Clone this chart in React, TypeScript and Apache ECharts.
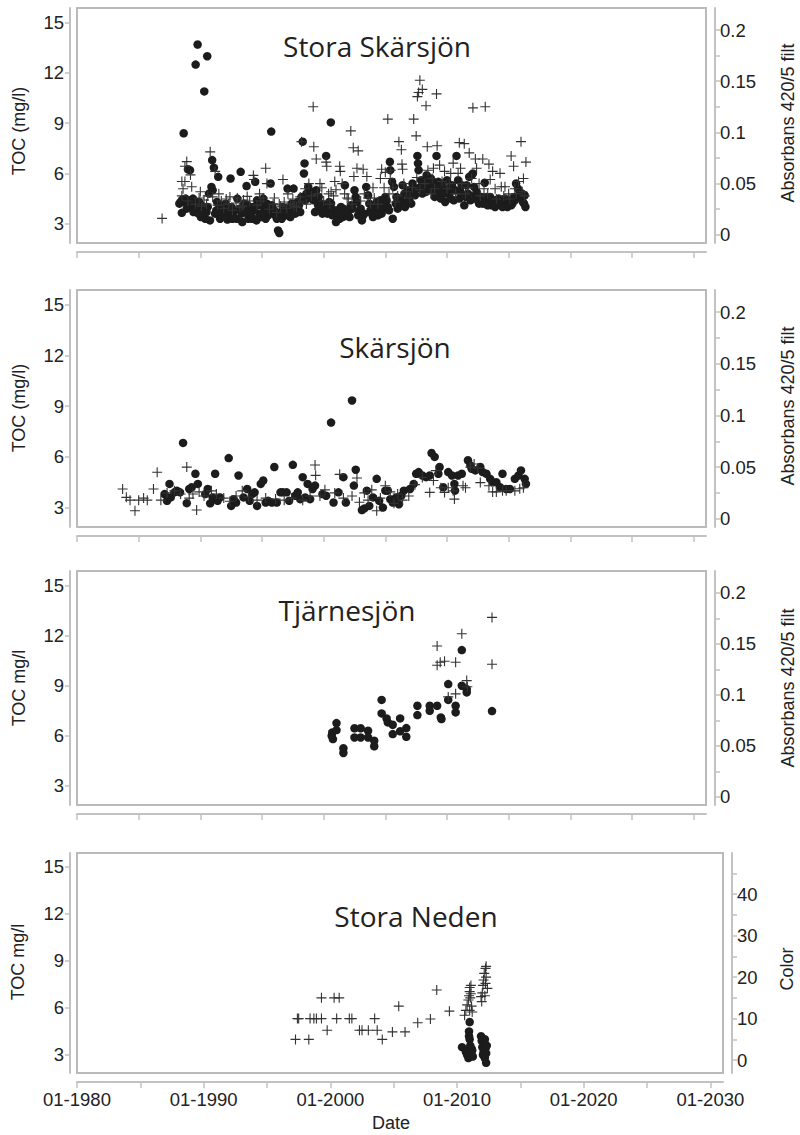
import React, { useEffect, useRef } from "react";
import * as echarts from "echarts";

// ---------- tick values ----------
const xTickValues = [1980, 1985, 1990, 1995, 2000, 2005, 2010, 2015, 2020, 2025, 2030];
const xLabelValues = [1980, 1990, 2000, 2010, 2020, 2030];
const tocTicks = [3, 6, 9, 12, 15];
const absTicks = [0, 0.025, 0.05, 0.075, 0.1, 0.125, 0.15, 0.175, 0.2];
const absLabels = [0, 0.05, 0.1, 0.15, 0.2];
const colorTicks = [0, 5, 10, 15, 20, 25, 30, 35, 40, 45];
const colorLabels = [0, 10, 20, 30, 40];

// ---------- Stora Skärsjön ----------
const storaSkarsjonToc = [
  [1988.65, 8.4], [1989.62, 12.5], [1989.78, 13.7], [1990.32, 10.9], [1990.56, 13.0], [1995.75, 8.5],
  [2000.58, 9.05], [1998.3, 7.9], [2000.2, 7.05], [1998.45, 6.6], [1998.4, 6.0],
  [1988.4, 4.3], [1988.55, 4.45], [1988.7, 4.3], [1988.8, 4.5], [1988.5, 3.65], [1989.16, 6.2], [1989.0, 6.25],
  [1989.3, 4.0], [1989.4, 4.5], [1989.5, 4.2], [1989.6, 3.9], [1989.7, 3.8], [1989.9, 4.3], [1990.05, 3.4],
  [1990.2, 3.6], [1990.35, 3.75], [1990.5, 3.7], [1990.7, 4.8], [1990.78, 3.2], [1990.9, 5.2], [1990.96, 6.8],
  [1991.0, 5.0], [1991.1, 6.35], [1991.3, 3.8], [1991.45, 5.8], [1991.6, 3.3], [1991.75, 4.1], [1991.9, 3.7],
  [1992.05, 4.2], [1992.2, 3.25], [1992.45, 5.7], [1992.6, 3.3], [1992.8, 3.8], [1993.0, 4.5], [1993.27, 6.1],
  [1993.4, 3.1], [1993.55, 4.2], [1993.75, 5.25], [1993.9, 3.3], [1994.0, 3.7], [1994.2, 3.3], [1994.3, 4.0],
  [1994.45, 5.5], [1994.6, 4.4], [1994.75, 3.4], [1994.9, 3.6], [1995.1, 4.5], [1995.3, 3.3], [1995.5, 3.5],
  [1995.7, 5.4], [1995.9, 3.8], [1996.1, 3.5], [1996.3, 2.6], [1996.4, 2.45], [1996.55, 3.7], [1996.7, 4.0],
  [1996.9, 3.5], [1997.07, 5.1], [1997.2, 3.9], [1997.4, 4.2], [1997.56, 5.1], [1997.7, 3.6], [1997.9, 4.3],
  [1998.1, 3.7], [1998.6, 4.8], [1998.75, 5.2], [1998.9, 4.6], [1999.05, 4.9], [1999.2, 4.4], [1999.4, 5.0],
  [1999.55, 4.1], [1999.7, 3.8], [1999.85, 4.2], [2000.0, 3.9], [2000.3, 3.6], [2000.45, 4.3], [2000.7, 3.5],
  [2000.85, 3.8], [2001.0, 3.1], [2001.2, 3.6], [2001.4, 4.0], [2001.55, 3.4], [2001.72, 5.3], [2001.9, 3.5],
  [2002.05, 3.8], [2002.2, 4.1], [2002.5, 5.0], [2002.6, 4.6], [2002.7, 4.3], [2002.9, 3.7], [2003.1, 3.2],
  [2003.3, 3.6], [2003.45, 5.2], [2003.6, 4.7], [2003.8, 3.8], [2004.0, 3.4], [2004.2, 4.1], [2004.4, 3.5],
  [2004.6, 4.4], [2004.8, 3.9], [2005.0, 4.6], [2005.2, 4.0], [2005.37, 6.7], [2005.4, 6.2], [2005.55, 5.5],
  [2005.6, 3.3], [2005.7, 5.2], [2005.85, 4.2], [2006.0, 3.9], [2006.2, 4.5], [2006.4, 5.3], [2006.55, 4.8],
  [2006.7, 4.3], [2006.85, 5.0], [2007.0, 4.6], [2007.2, 5.4], [2007.4, 4.7], [2007.6, 7.05], [2007.65, 6.6],
  [2007.7, 6.2], [2007.85, 5.2], [2008.0, 4.8], [2008.2, 5.6], [2008.35, 5.9], [2008.5, 5.3], [2008.7, 5.7],
  [2008.85, 5.0], [2009.0, 4.6], [2009.15, 7.05], [2009.3, 5.5], [2009.5, 4.5], [2009.7, 5.0], [2009.85, 4.3],
  [2010.0, 5.6], [2010.2, 4.8], [2010.4, 5.3], [2010.55, 4.4], [2010.77, 7.05], [2010.9, 5.6], [2011.1, 4.9],
  [2011.4, 4.1], [2011.6, 5.3], [2011.8, 5.8], [2012.0, 5.9], [2012.1, 6.0], [2012.3, 4.7], [2012.5, 4.4],
  [2012.7, 4.5], [2012.9, 4.2], [2013.06, 5.45], [2013.2, 4.6], [2013.4, 4.3], [2013.6, 4.1], [2013.8, 4.4],
  [2014.0, 4.2], [2014.2, 4.5], [2014.4, 4.1], [2014.6, 4.3], [2014.8, 4.2], [2015.0, 4.4], [2015.2, 4.1],
  [2015.45, 4.6], [2015.6, 5.4], [2015.75, 5.1], [2015.9, 4.8], [2016.0, 4.6], [2016.15, 4.3], [2016.36, 4.0],
  [2016.3, 4.7],
  [1988.3, 4.2], [1988.9, 3.9], [1989.05, 4.4], [1989.45, 3.7], [1989.85, 3.6], [1990.1, 4.1], [1990.4, 3.3],
  [1990.6, 4.0], [1991.2, 3.6], [1991.35, 4.3], [1991.55, 3.9], [1991.8, 3.5], [1992.0, 3.9], [1992.3, 3.6],
  [1992.5, 4.0], [1992.7, 3.4], [1992.95, 3.3], [1993.15, 3.9], [1993.35, 3.6], [1993.65, 3.7], [1993.85, 4.1],
  [1994.1, 3.5], [1994.4, 3.8], [1994.55, 3.2], [1994.85, 4.1], [1995.0, 3.4], [1995.2, 3.9], [1995.4, 4.2],
  [1995.6, 3.7], [1995.8, 4.1], [1996.0, 3.8], [1996.2, 3.3], [1996.6, 3.3], [1996.8, 3.8], [1997.0, 3.6],
  [1997.3, 3.4], [1997.5, 3.8], [1997.8, 4.0], [1998.0, 4.1], [1998.2, 4.6], [1998.5, 4.4], [1998.7, 4.7],
  [1999.0, 4.5], [1999.3, 3.7], [1999.6, 4.6], [1999.9, 3.6], [2000.1, 4.1], [2000.4, 3.9], [2000.6, 4.2],
  [2001.1, 3.8], [2001.3, 3.3], [2001.6, 3.9], [2001.8, 3.6], [2002.1, 3.4], [2002.35, 3.9], [2002.8, 3.5],
  [2003.0, 3.9], [2003.2, 3.5], [2003.7, 4.2], [2003.9, 3.6], [2004.1, 3.8], [2004.3, 4.3], [2004.5, 3.9],
  [2004.7, 3.6], [2004.9, 4.2], [2005.1, 4.4], [2005.3, 3.8], [2005.9, 4.6], [2006.1, 4.0], [2006.3, 4.2],
  [2006.6, 4.0], [2006.9, 4.4], [2007.1, 4.2], [2007.3, 4.9], [2007.5, 5.1], [2007.9, 5.6], [2008.1, 5.2],
  [2008.3, 4.9], [2008.6, 5.1], [2008.8, 5.5], [2009.1, 5.2], [2009.4, 4.9], [2009.6, 5.4], [2009.9, 4.8],
  [2010.1, 5.1], [2010.3, 4.5], [2010.7, 5.0], [2011.0, 4.5], [2011.2, 5.3], [2011.5, 4.6], [2011.7, 4.8],
  [2011.9, 4.4], [2012.2, 5.2], [2012.4, 4.9], [2012.6, 4.2], [2012.8, 4.6], [2013.0, 4.4], [2013.3, 4.1],
  [2013.5, 4.6], [2013.7, 4.3], [2013.9, 4.0], [2014.1, 4.4], [2014.3, 4.2], [2014.5, 4.0], [2014.7, 4.5],
  [2014.9, 4.0], [2015.1, 4.3], [2015.3, 4.2], [2015.5, 4.4], [2015.7, 4.6], [2016.1, 4.8], [2016.25, 4.2],
];
const storaSkarsjonAbs = [
  [1986.9, 0.016], [1988.5, 0.052], [1988.75, 0.052], [1988.9, 0.0715], [1988.75, 0.067], [1989.3, 0.047],
  [1989.2, 0.0585], [1988.5, 0.038], [1989.6, 0.03], [1989.9, 0.036], [1990.1, 0.028], [1990.3, 0.034],
  [1990.5, 0.03], [1990.8, 0.081], [1991.2, 0.062], [1991.0, 0.037], [1991.4, 0.029], [1991.7, 0.033],
  [1991.9, 0.026], [1992.1, 0.035], [1992.3, 0.03], [1992.6, 0.024], [1992.9, 0.031], [1993.2, 0.027],
  [1993.5, 0.034], [1993.8, 0.0375], [1994.3, 0.058], [1994.35, 0.054], [1994.6, 0.029], [1994.9, 0.033],
  [1995.3, 0.065], [1995.4, 0.05], [1995.6, 0.025], [1995.9, 0.03], [1996.2, 0.022], [1996.5, 0.028],
  [1996.7, 0.054], [1996.8, 0.032], [1997.0, 0.026], [1997.3, 0.03], [1997.5, 0.035], [1997.8, 0.027],
  [1998.2, 0.091], [1998.1, 0.037], [1998.5, 0.045], [1998.8, 0.05], [1999.15, 0.125], [1999.2, 0.086],
  [1999.4, 0.074], [1999.5, 0.04], [1999.7, 0.05], [1999.85, 0.046], [2000.2, 0.071], [2000.25, 0.067],
  [2000.4, 0.04], [2000.6, 0.042], [2000.8, 0.038], [2000.9, 0.052], [2001.3, 0.067], [2001.35, 0.062],
  [2001.5, 0.05], [2001.7, 0.04], [2002.0, 0.035], [2002.2, 0.1015], [2002.4, 0.085], [2002.45, 0.057],
  [2002.7, 0.065], [2002.8, 0.082], [2003.0, 0.033], [2003.2, 0.064], [2003.3, 0.04], [2003.5, 0.057],
  [2003.8, 0.03], [2004.1, 0.036], [2004.6, 0.055], [2004.7, 0.064], [2004.9, 0.046], [2005.0, 0.061],
  [2005.2, 0.113], [2005.3, 0.04], [2005.4, 0.055], [2005.45, 0.063], [2005.8, 0.032], [2006.1, 0.091],
  [2006.3, 0.083], [2006.35, 0.069], [2006.4, 0.064], [2006.7, 0.042], [2007.0, 0.036], [2007.3, 0.113],
  [2007.5, 0.0966], [2007.55, 0.056], [2007.6, 0.135], [2007.7, 0.139], [2007.8, 0.151], [2008.0, 0.142],
  [2008.3, 0.126], [2008.4, 0.086], [2008.45, 0.063], [2008.7, 0.04], [2008.9, 0.065], [2009.15, 0.1376],
  [2009.2, 0.087], [2009.4, 0.068], [2009.8, 0.062], [2010.0, 0.045], [2010.3, 0.06], [2010.5, 0.07],
  [2010.9, 0.06], [2011.0, 0.09], [2011.1, 0.065], [2011.4, 0.089], [2011.5, 0.04], [2011.8, 0.08],
  [2012.1, 0.124], [2012.3, 0.074], [2012.4, 0.065], [2012.7, 0.038], [2012.9, 0.074], [2013.1, 0.125],
  [2013.4, 0.069], [2013.5, 0.054], [2013.7, 0.062], [2014.0, 0.035], [2014.3, 0.06], [2014.4, 0.047],
  [2014.7, 0.047], [2015.0, 0.04], [2015.2, 0.077], [2015.4, 0.067], [2015.6, 0.04], [2015.8, 0.052],
  [2016.0, 0.091], [2016.2, 0.055], [2016.3, 0.038], [2016.4, 0.071],
  [1988.6, 0.045], [1989.0, 0.033], [1990.0, 0.042], [1990.6, 0.038], [1991.5, 0.04], [1992.4, 0.037],
  [1993.0, 0.036], [1993.4, 0.028], [1994.0, 0.033], [1994.8, 0.04], [1995.1, 0.036], [1996.0, 0.036],
  [1996.4, 0.03], [1997.1, 0.04], [1997.6, 0.028], [1998.0, 0.032], [1998.6, 0.03], [1999.0, 0.038],
  [2000.0, 0.033], [2000.5, 0.03], [2001.0, 0.044], [2001.9, 0.036], [2002.3, 0.03], [2003.6, 0.036],
  [2004.0, 0.046], [2004.4, 0.03], [2005.6, 0.046], [2006.0, 0.038], [2006.5, 0.05], [2007.2, 0.046],
  [2007.8, 0.044], [2008.2, 0.05], [2008.8, 0.055], [2009.0, 0.045], [2009.6, 0.052], [2010.2, 0.05],
  [2010.7, 0.04], [2011.2, 0.05], [2011.7, 0.046], [2012.0, 0.055], [2012.6, 0.05], [2013.0, 0.045],
  [2013.3, 0.04], [2013.9, 0.045], [2014.6, 0.038], [2015.1, 0.035], [2015.5, 0.045], [2016.1, 0.042],
];

// ---------- Skärsjön ----------
const skarsjonToc = [
  [1987.1, 3.8], [1987.3, 3.4], [1987.5, 4.4], [1987.6, 3.6], [1987.9, 3.9], [1988.1, 4.0], [1988.35, 3.9],
  [1988.6, 6.83], [1988.9, 3.26], [1989.1, 4.1], [1989.3, 4.2], [1989.6, 5.0], [1989.8, 4.4], [1990.4, 3.8],
  [1990.6, 4.1], [1990.8, 3.25], [1991.0, 3.6], [1991.2, 5.0], [1991.4, 3.4], [1991.6, 3.6], [1992.3, 5.93],
  [1992.5, 3.1], [1992.7, 3.5], [1992.9, 3.3], [1993.1, 4.9], [1993.5, 3.6], [1993.8, 4.1], [1994.0, 3.4],
  [1994.2, 3.8], [1994.4, 3.9], [1994.6, 3.1], [1994.9, 4.4], [1995.1, 4.6], [1995.3, 3.3], [1995.5, 3.4],
  [1995.8, 3.3], [1996.0, 5.4], [1996.2, 3.3], [1996.5, 3.9], [1996.7, 3.9], [1997.0, 3.9], [1997.2, 3.4],
  [1997.5, 5.53], [1997.7, 3.7], [1997.9, 3.9], [1998.1, 3.5], [1998.3, 4.8], [1998.5, 3.6], [1998.7, 4.4],
  [1998.9, 3.5], [1999.1, 4.1], [1999.3, 4.3], [1999.9, 3.8], [2000.2, 3.7], [2000.6, 8.03], [2000.8, 3.3],
  [2001.2, 3.9], [2001.6, 4.8], [2001.8, 3.3], [2002.3, 9.34], [2002.45, 4.3], [2002.6, 5.24], [2003.1, 2.85],
  [2003.3, 2.95], [2003.5, 4.0], [2003.7, 3.1], [2004.0, 3.6], [2004.3, 4.7], [2004.5, 3.4], [2004.8, 3.0],
  [2005.0, 4.0], [2005.2, 4.0], [2005.4, 3.5], [2005.6, 3.3], [2005.9, 3.6], [2006.1, 3.2], [2006.3, 3.7],
  [2006.5, 4.0], [2007.0, 4.1], [2007.3, 4.4], [2007.5, 5.0], [2007.7, 5.1], [2008.0, 4.9], [2008.3, 4.8],
  [2008.6, 4.9], [2008.75, 6.23], [2009.0, 6.0], [2009.3, 5.0], [2009.4, 5.4], [2009.7, 4.2], [2010.1, 5.1],
  [2010.4, 4.9], [2010.6, 4.4], [2010.65, 4.0], [2010.9, 4.9], [2011.2, 5.0], [2011.7, 5.8], [2011.9, 5.5],
  [2012.0, 5.3], [2012.3, 5.2], [2012.7, 5.4], [2012.9, 5.1], [2013.2, 5.0], [2013.5, 4.7], [2013.7, 4.5],
  [2014.0, 4.5], [2014.3, 4.2], [2014.5, 5.0], [2014.8, 4.1], [2015.1, 4.1], [2015.5, 4.7], [2015.8, 4.9],
  [2016.0, 5.2], [2016.3, 4.7], [2016.4, 4.4],
];
const skarsjonAbs = [
  [1983.7, 0.0288], [1984.0, 0.0207], [1984.3, 0.018], [1984.7, 0.0078], [1985.0, 0.018], [1985.4, 0.02],
  [1985.7, 0.018], [1986.2, 0.0288], [1986.5, 0.045], [1986.8, 0.018], [1987.3, 0.025], [1987.9, 0.027],
  [1988.4, 0.024], [1988.9, 0.05], [1989.1, 0.02], [1989.4, 0.024], [1989.7, 0.0084], [1989.9, 0.026],
  [1990.3, 0.022], [1990.9, 0.027], [1991.3, 0.024], [1991.9, 0.02], [1992.4, 0.017], [1992.9, 0.022],
  [1993.4, 0.027], [1993.9, 0.021], [1994.6, 0.018], [1995.3, 0.02], [1996.1, 0.019], [1996.8, 0.018],
  [1997.4, 0.02], [1998.3, 0.018], [1998.9, 0.022], [1999.3, 0.052], [1999.35, 0.042], [1999.7, 0.022],
  [2000.1, 0.028], [2000.9, 0.025], [2001.3, 0.043], [2001.6, 0.02], [2002.3, 0.022], [2002.7, 0.0395],
  [2002.9, 0.016], [2003.3, 0.025], [2003.6, 0.018], [2003.9, 0.028], [2004.3, 0.0078], [2004.6, 0.02],
  [2005.0, 0.032], [2005.4, 0.026], [2005.7, 0.015], [2006.0, 0.024], [2006.4, 0.018], [2006.9, 0.022],
  [2007.4, 0.033], [2008.0, 0.04], [2008.6, 0.0255], [2008.9, 0.037], [2009.1, 0.0466], [2009.5, 0.03],
  [2009.8, 0.0255], [2010.1, 0.03], [2010.5, 0.027], [2010.6, 0.019], [2011.3, 0.032], [2011.5, 0.03],
  [2011.9, 0.05], [2012.2, 0.053], [2012.5, 0.049], [2012.7, 0.035], [2013.4, 0.032], [2013.7, 0.026],
  [2014.0, 0.026], [2014.5, 0.027], [2014.8, 0.027], [2015.5, 0.027], [2015.9, 0.029], [2016.2, 0.03],
];

// ---------- Tjärnesjön ----------
const tjarnesjonToc = [
  [2000.7, 6.2], [2000.75, 5.8], [2000.65, 6.0], [2001.04, 6.76], [2001.04, 6.34], [2001.6, 5.25],
  [2001.6, 4.97], [2002.5, 6.45], [2002.5, 5.9], [2003.0, 6.45], [2003.0, 5.9], [2003.6, 6.3], [2003.6, 5.9],
  [2004.1, 5.7], [2004.1, 5.37], [2004.7, 8.15], [2004.7, 7.34], [2005.1, 7.04], [2005.2, 6.8], [2005.6, 6.66],
  [2005.6, 6.1], [2006.2, 7.04], [2006.2, 6.27], [2006.7, 6.46], [2006.7, 5.94], [2007.6, 7.8], [2007.6, 7.24],
  [2008.6, 7.8], [2008.6, 7.5], [2009.2, 7.8], [2009.5, 7.1], [2009.55, 7.0], [2010.1, 9.1], [2010.1, 8.15],
  [2010.7, 7.8], [2010.7, 7.4], [2011.2, 11.14], [2011.2, 9.0], [2011.6, 8.8], [2011.6, 8.6], [2013.65, 7.48],
];
const tjarnesjonAbs = [
  [2009.2, 0.148], [2009.2, 0.129], [2009.45, 0.132], [2009.8, 0.133], [2010.1, 0.098], [2010.7, 0.132],
  [2010.7, 0.101], [2011.2, 0.16], [2011.6, 0.114], [2011.65, 0.108], [2013.65, 0.176], [2013.65, 0.13],
];

// ---------- Stora Neden ----------
const storaNedenToc = [
  [2010.4, 3.5], [2010.7, 3.2], [2010.8, 3.0], [2010.9, 2.8], [2010.9, 3.3], [2010.95, 4.5], [2010.95, 4.2],
  [2011.0, 5.1], [2011.0, 4.0], [2011.05, 3.6], [2011.1, 3.1], [2011.15, 3.4], [2011.2, 3.3], [2011.25, 2.9],
  [2011.9, 4.2], [2011.95, 3.9], [2012.0, 3.5], [2012.05, 3.0], [2012.1, 3.2], [2012.15, 3.8], [2012.2, 4.0],
  [2012.25, 3.4], [2012.3, 3.1], [2012.35, 3.6], [2012.3, 2.5], [2012.2, 2.8],
];
const storaNedenColor = [
  [1997.25, 5], [1997.4, 10], [1997.5, 10], [1998.3, 5], [1998.4, 10], [1998.7, 10], [1998.9, 10], [1999.3, 10],
  [1999.3, 15], [1999.75, 7.2], [2000.3, 15], [2000.5, 10], [2000.7, 15], [2001.5, 10], [2001.7, 10],
  [2002.3, 7.2], [2002.5, 7.2], [2003.0, 7.2], [2003.5, 10], [2003.7, 7.2], [2004.1, 5], [2004.9, 6.8],
  [2005.4, 13], [2005.9, 6.8], [2006.9, 9.0], [2007.9, 9.9], [2008.4, 16.9], [2009.4, 11.8],
  [2010.6, 10.8], [2010.7, 12], [2010.8, 13.3], [2010.9, 14.5], [2010.95, 15.5], [2011.0, 16.5], [2011.0, 17.5],
  [2011.05, 15], [2011.1, 16], [2011.1, 18], [2011.15, 13], [2011.2, 11.6], [2011.0, 12],
  [2011.9, 15.3], [2011.95, 14.1], [2012.0, 16.2], [2012.05, 18], [2012.1, 19.3], [2012.15, 20.9],
  [2012.25, 22.1], [2012.3, 22.6], [2012.25, 18.5], [2012.4, 17.3], [2012.2, 15.5], [2012.3, 20],
];

const FONT = "'Liberation Sans', Arial, sans-serif";
const TITLE_FONT = "'Open Sans', 'Noto Sans', sans-serif";
const PLUS = "path://M4,0h1v4h4v1h-4v4h-1v-4h-4v-1h4z";
const AXIS_GRAY = "#c2c2c2";
const TEXT = "#222";

const panels = [
  {
    title: "Stora Skärsjön", toc: storaSkarsjonToc, right: storaSkarsjonAbs, kind: "abs",
    grid: { left: 77, top: 8, width: 629, height: 235 },
    leftTitle: "TOC (mg/l)", rightTitle: "Absorbans 420/5 filt",
    titlePos: [377, 46], leftPos: [19, 131], rightPos: [788, 123],
  },
  {
    title: "Skärsjön", toc: skarsjonToc, right: skarsjonAbs, kind: "abs",
    grid: { left: 77, top: 290, width: 629, height: 237 },
    leftTitle: "TOC (mg/l)", rightTitle: "Absorbans 420/5 filt",
    titlePos: [395, 347], leftPos: [19, 408], rightPos: [788, 406],
  },
  {
    title: "Tjärnesjön", toc: tjarnesjonToc, right: tjarnesjonAbs, kind: "abs",
    grid: { left: 77, top: 571, width: 629, height: 234 },
    leftTitle: "TOC mg/l", rightTitle: "Absorbans 420/5 filt",
    titlePos: [347, 610], leftPos: [19, 688], rightPos: [788, 688],
  },
  {
    title: "Stora Neden", toc: storaNedenToc, right: storaNedenColor, kind: "color",
    grid: { left: 77, top: 853, width: 646, height: 220 },
    leftTitle: "TOC mg/l", rightTitle: "Color",
    titlePos: [416, 916], leftPos: [18, 962], rightPos: [787, 969],
  },
];

function buildOption() {
  const grid = panels.map((p) => ({
    ...p.grid, show: true, borderColor: "#bababa", borderWidth: 2, backgroundColor: "transparent",
  }));
  const xAxis = panels.map((p, i) => ({
    type: "value", gridIndex: i, min: 1980, max: 2031, position: "bottom", offset: 9,
    axisLine: { show: true, onZero: false, lineStyle: { color: AXIS_GRAY, width: 2 } },
    axisTick: { show: true, length: 6, customValues: xTickValues, lineStyle: { color: AXIS_GRAY, width: 1.5 } },
    axisLabel: {
      show: i === 3, customValues: xLabelValues, formatter: (v: number) => "01-" + v,
      fontFamily: FONT, fontSize: 18.5, color: TEXT, margin: 8,
    },
    splitLine: { show: false },
  }));
  const yAxis: any[] = [];
  panels.forEach((p, i) => {
    yAxis.push({
      type: "value", gridIndex: i, position: "left", min: 1.85, max: 15.88, offset: 7,
      axisLine: { show: true, onZero: false, lineStyle: { color: AXIS_GRAY, width: 2 } },
      axisTick: { show: true, length: 5, customValues: tocTicks, lineStyle: { color: AXIS_GRAY, width: 1.5 } },
      axisLabel: { customValues: tocTicks, fontFamily: FONT, fontSize: 18.5, color: TEXT, margin: 6 },
      splitLine: { show: false },
    });
    const isAbs = p.kind === "abs";
    yAxis.push({
      type: "value", gridIndex: i, position: "right",
      min: isAbs ? -0.008 : -3.1, max: isAbs ? 0.2215 : 49.9, offset: 9,
      axisLine: { show: true, onZero: false, lineStyle: { color: AXIS_GRAY, width: 2 } },
      axisTick: {
        show: true, length: 5, customValues: isAbs ? absTicks : colorTicks,
        lineStyle: { color: AXIS_GRAY, width: 1.5 },
      },
      axisLabel: {
        customValues: isAbs ? absLabels : colorLabels, formatter: (v: number) => String(v),
        fontFamily: FONT, fontSize: 18.5, color: TEXT, margin: 5,
      },
      splitLine: { show: false },
    });
  });
  const series: any[] = [];
  panels.forEach((p, i) => {
    series.push({
      type: "scatter", name: p.title + " TOC", xAxisIndex: i, yAxisIndex: i * 2, data: p.toc,
      symbol: "circle", symbolSize: 8.5, itemStyle: { color: "#1c1c1c", opacity: 1 }, z: 2,
    });
    series.push({
      type: "scatter", name: p.title + " " + p.rightTitle, xAxisIndex: i, yAxisIndex: i * 2 + 1, data: p.right,
      symbol: PLUS, symbolSize: 10, itemStyle: { color: "#333", opacity: 1 }, z: 3,
    });
  });
  const graphic: any[] = [];
  panels.forEach((p) => {
    graphic.push({
      type: "text", x: p.titlePos[0], y: p.titlePos[1], silent: true,
      style: { text: p.title, font: `28px ${TITLE_FONT}`, fill: TEXT, textAlign: "center", textVerticalAlign: "middle" },
    });
    graphic.push({
      type: "text", x: p.leftPos[0], y: p.leftPos[1], rotation: Math.PI / 2, silent: true,
      style: { text: p.leftTitle, font: `18px ${FONT}`, fill: TEXT, textAlign: "center", textVerticalAlign: "middle" },
    });
    graphic.push({
      type: "text", x: p.rightPos[0], y: p.rightPos[1], rotation: Math.PI / 2, silent: true,
      style: { text: p.rightTitle, font: `18px ${FONT}`, fill: TEXT, textAlign: "center", textVerticalAlign: "middle" },
    });
  });
  graphic.push({
    type: "text", x: 391, y: 1123, silent: true,
    style: { text: "Date", font: `18px ${FONT}`, fill: TEXT, textAlign: "center", textVerticalAlign: "middle" },
  });
  return { animation: false, backgroundColor: "#fff", grid, xAxis, yAxis, series, graphic };
}

export default function App() {
  const ref = useRef<HTMLDivElement>(null);
  useEffect(() => {
    if (!ref.current) return;
    const chart = echarts.init(ref.current, null, { renderer: "svg" });
    chart.setOption(buildOption() as any);
    return () => chart.dispose();
  }, []);
  return (
    <div
      ref={ref}
      style={{ position: "absolute", left: 0, top: 0, width: 800, height: 1135, background: "#fff" }}
    />
  );
}
